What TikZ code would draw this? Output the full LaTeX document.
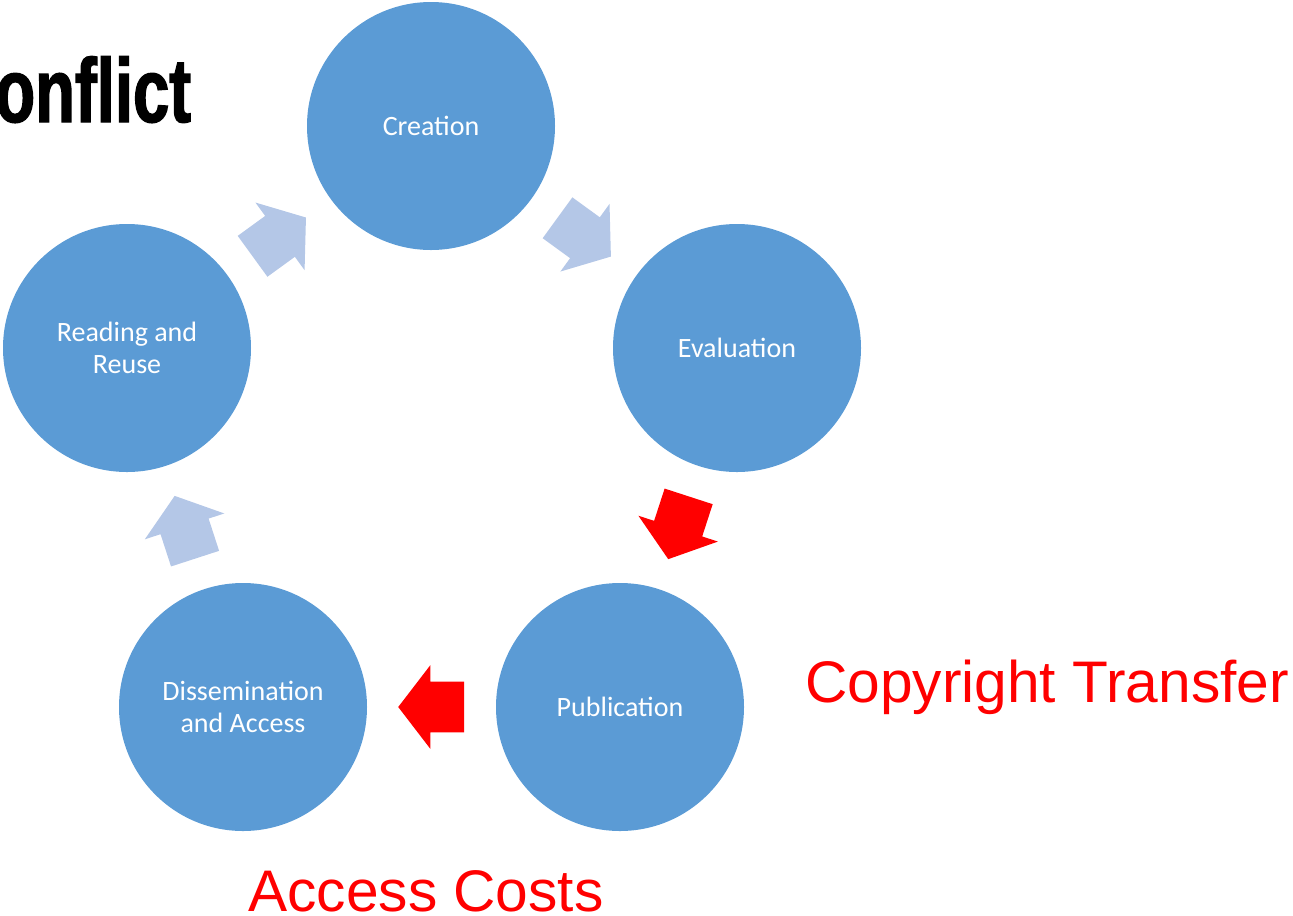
\documentclass[tikz,border=0pt]{standalone}
\usepackage{fontspec}
\setmainfont{Carlito}
\newfontfamily\arialfont{Liberation Sans}
\newfontfamily\titlefont{Liberation Sans Bold}[FakeStretch=0.72, FakeBold=1.5]
\usepackage{tikz}
\usetikzlibrary{shapes.arrows,calc}
\definecolor{stageblue}{HTML}{5B9BD5}
\definecolor{paleblue}{HTML}{B4C7E7}
\definecolor{alertred}{HTML}{FF0000}

\begin{document}
\begin{tikzpicture}[x=0.75pt, y=-0.75pt,
  stage/.style={shape=circle, fill=stageblue, minimum size=186pt, inner sep=0pt, text=white, align=center, font=\fontsize{21}{24}\selectfont},
  flow/.style={single arrow, anchor=tail, fill=paleblue, minimum height=49.5pt, inner xsep=0pt, inner ysep=18.75pt, single arrow head extend=12.4pt, single arrow tip angle=105},
  hot/.style={flow, fill=alertred},
  note/.style={anchor=base west, inner sep=0pt, text=alertred, font=\arialfont\fontsize{44}{50}\selectfont}]
\useasboundingbox (0, 0) rectangle (1293, 915);
\node at (-5, 122) [anchor=base west, inner sep=0pt, font=\titlefont\fontsize{68}{70}\selectfont] (title) {onflict};
\node at (431, 126) [stage] (creation) {Creation};
\node at (737, 348) [stage] (evaluation) {Evaluation};
\node at (620, 707) [stage] (publication) {Publication};
\node at (243, 707) [stage] (dissemination) {Dissemination\\and Access};
\node at (127, 348) [stage] (reading) {Reading and\\Reuse};
% block arrows sit halfway between two stages, tail 33px back
\node at ($(creation)!0.5!(evaluation)!24.75pt!(creation)$) [flow, rotate=-36] (a1) {};
\node at ($(evaluation)!0.5!(publication)!24.75pt!(evaluation)$) [hot, rotate=-108] (a2) {};
\node at ($(publication)!0.5!(dissemination)!24.75pt!(publication)$) [hot, rotate=180] (a3) {};
\node at ($(dissemination)!0.5!(reading)!24.75pt!(dissemination)$) [flow, rotate=108] (a4) {};
\node at ($(reading)!0.5!(creation)!24.75pt!(reading)$) [flow, rotate=36] (a5) {};
\node at (805, 702) [note] (copyright) {Copyright Transfer};
\node at (248, 911) [note] (costs) {Access Costs};
\end{tikzpicture}
\end{document}
